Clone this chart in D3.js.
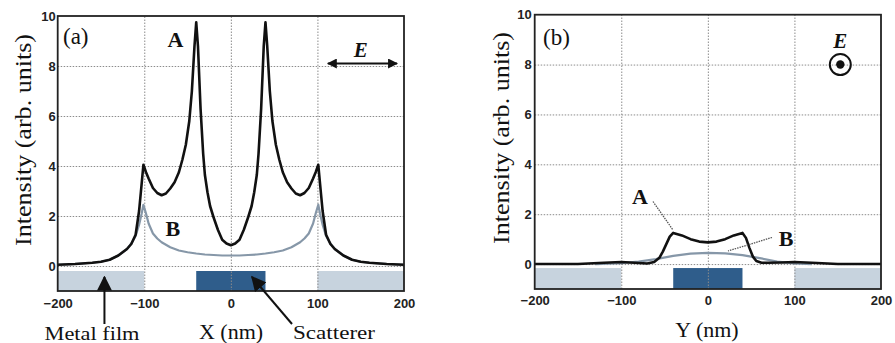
<!DOCTYPE html>
<html>
<head>
<meta charset="utf-8">
<script src="https://cdn.jsdelivr.net/npm/d3@7"></script>
<style>
  html, body { margin: 0; padding: 0; background: #fff; }
  svg { display: block; }
  .tick text { font-family: "Liberation Sans", Arial, sans-serif; font-weight: bold; font-size: 13px; fill: #222; }
  text.serif { font-family: "Liberation Serif", "Times New Roman", Times, serif; fill: #111; }
</style>
</head>
<body>
<svg id="chart" width="895" height="343"></svg>
<script>
// ---- data ----
const xTicks = [-200, -100, 0, 100, 200];
const yTicks = [0, 2, 4, 6, 8, 10];
const gridX = [-100, 0, 100];
const gridY = [0, 2, 4, 6, 8];

// panel (a): X profile
const xA_a = [-200, -180, -160, -150, -140, -130, -120, -115, -110, -106, -103, -101, -98, -95, -90, -85, -80, -75, -70, -65, -60, -56, -52, -48, -45, -42, -40, -38, -35, -32, -30, -27, -24, -20, -15, -10, -5, 0,
  5, 10, 15, 20, 24, 27, 30, 32, 35, 38, 40, 42, 45, 48, 52, 56, 60, 65, 70, 75, 80, 85, 90, 95, 98, 101, 103, 106, 110, 115, 120, 130, 140, 150, 160, 180, 200];
const yA_a = [0.05, 0.08, 0.13, 0.17, 0.25, 0.42, 0.68, 0.88, 1.25, 2.2, 3.3, 4.05, 3.75, 3.5, 3.12, 2.92, 2.83, 2.9, 3.1, 3.35, 3.75, 4.25, 4.85, 5.8, 7.0, 8.8, 9.75, 8.8, 6.3, 4.5, 3.65, 2.95, 2.4, 1.95, 1.45, 1.05, 0.9, 0.83,
  0.9, 1.05, 1.45, 1.95, 2.4, 2.95, 3.65, 4.5, 6.3, 8.8, 9.75, 8.8, 7.0, 5.8, 4.85, 4.25, 3.75, 3.35, 3.1, 2.9, 2.83, 2.92, 3.12, 3.5, 3.75, 4.05, 3.3, 2.2, 1.25, 0.88, 0.68, 0.42, 0.25, 0.17, 0.13, 0.08, 0.05];
const xB_a = [-200, -180, -160, -150, -140, -130, -120, -115, -110, -106, -103, -101, -98, -95, -90, -85, -80, -70, -60, -50, -40, -30, -20, -10, 0,
  10, 20, 30, 40, 50, 60, 70, 80, 85, 90, 95, 98, 101, 103, 106, 110, 115, 120, 130, 140, 150, 160, 180, 200];
const yB_a = [0.05, 0.08, 0.13, 0.17, 0.25, 0.42, 0.68, 0.9, 1.2, 1.65, 2.1, 2.45, 2.1, 1.7, 1.3, 1.1, 0.95, 0.75, 0.62, 0.55, 0.5, 0.46, 0.44, 0.42, 0.42,
  0.42, 0.44, 0.46, 0.5, 0.55, 0.62, 0.75, 0.95, 1.1, 1.3, 1.7, 2.1, 2.45, 2.1, 1.65, 1.2, 0.9, 0.68, 0.42, 0.25, 0.17, 0.13, 0.08, 0.05];

// panel (b): Y profile
const xA_b = [-200, -150, -120, -100, -85, -70, -62, -56, -52, -48, -44, -40, -35, -30, -20, -10, 0, 10, 20, 30, 35, 40, 44, 48, 52, 56, 62, 70, 85, 100, 120, 150, 200];
const yA_b = [0.0, 0.0, 0.05, 0.08, 0.05, 0.02, 0.08, 0.25, 0.5, 0.8, 1.1, 1.25, 1.2, 1.15, 1.0, 0.9, 0.87, 0.9, 1.0, 1.15, 1.2, 1.25, 1.05, 0.65, 0.3, 0.12, 0.05, 0.05, 0.06, 0.08, 0.05, 0.0, 0.0];
const xB_b = [-130, -100, -80, -60, -40, -20, 0, 20, 40, 60, 80, 100, 120];
const yB_b = [0.0, 0.04, 0.1, 0.2, 0.33, 0.42, 0.45, 0.43, 0.36, 0.24, 0.1, 0.03, 0.0];

// substrate blocks
const blockFrom = [-200, -40, 100];
const blockTo = [-100, 40, 200];
const blockKind = ['film', 'scatterer', 'film'];

const SERIF = '"Liberation Serif", "Times New Roman", Times, serif';
const svg = d3.select('#chart');

function zip(xs, ys) { return xs.map((x, i) => ({x, y: ys[i]})); }

function label(g, x, y, size, txt) {
  return g.append('text').attr('class', 'serif')
    .attr('font-family', SERIF).attr('fill', '#111')
    .attr('x', x).attr('y', y).attr('font-size', size).text(txt);
}

function panel(cfg) {
  const x = d3.scaleLinear().domain([-200, 200]).range([cfg.left, cfg.right]);
  const y = d3.scaleLinear().domain([-1, 10]).range([cfg.bottom, cfg.top]);
  const g = svg.append('g');

  // substrate blocks
  g.selectAll('.block')
    .data(blockFrom.map((f, i) => ({f, t: blockTo[i], k: blockKind[i]})))
    .enter().append('rect')
    .attr('x', d => x(d.f))
    .attr('width', d => x(d.t) - x(d.f))
    .attr('y', d => y(cfg.blockTop))
    .attr('height', d => y(-1) - y(cfg.blockTop))
    .attr('fill', d => d.k === 'film' ? '#c7d3de' : '#2f5d8b');

  // grid
  g.append('g')
    .attr('transform', `translate(0,${cfg.bottom})`)
    .call(d3.axisBottom(x).tickValues(gridX).tickSize(-(cfg.bottom - cfg.top)).tickFormat(''))
    .call(a => a.select('.domain').remove())
    .selectAll('line').attr('stroke', '#8c8c8c').attr('stroke-dasharray', '1.5,1.5');
  g.append('g')
    .attr('transform', `translate(${cfg.left},0)`)
    .call(d3.axisLeft(y).tickValues(gridY).tickSize(-(cfg.right - cfg.left)).tickFormat(''))
    .call(a => a.select('.domain').remove())
    .selectAll('line').attr('stroke', '#8c8c8c').attr('stroke-dasharray', '1.5,1.5');

  // tick labels
  g.append('g')
    .attr('transform', `translate(0,${cfg.bottom})`)
    .call(d3.axisBottom(x).tickValues(xTicks).tickSize(0).tickPadding(cfg.xPad))
    .call(a => a.select('.domain').remove());
  g.append('g')
    .attr('transform', `translate(${cfg.left},0)`)
    .call(d3.axisLeft(y).tickValues(yTicks).tickSize(0).tickPadding(cfg.yPad))
    .call(a => a.select('.domain').remove());

  const line = d3.line().x(d => x(d.x)).y(d => y(d.y));
  g.append('path').datum(zip(cfg.xB, cfg.yB))
    .attr('d', line).attr('fill', 'none')
    .attr('stroke', '#8697a8').attr('stroke-width', 2.2).attr('stroke-linejoin', 'round');
  g.append('path').datum(zip(cfg.xA, cfg.yA))
    .attr('d', line).attr('fill', 'none')
    .attr('stroke', '#111').attr('stroke-width', 2.6).attr('stroke-linejoin', 'round');

  // frame
  g.append('rect')
    .attr('x', cfg.left).attr('y', cfg.top)
    .attr('width', cfg.right - cfg.left).attr('height', cfg.bottom - cfg.top)
    .attr('fill', 'none').attr('stroke', '#222').attr('stroke-width', 1.8);

  // axis titles
  label(g, 0, 0, 23, 'Intensity (arb. units)')
    .attr('transform', `translate(${cfg.yTitleX},${cfg.yTitleY}) rotate(-90)`)
    .attr('text-anchor', 'middle')
    .attr('textLength', 212).attr('lengthAdjust', 'spacingAndGlyphs');
  label(g, cfg.xTitleX, cfg.xTitleY, 22, cfg.xTitle).attr('text-anchor', 'middle');
  label(g, cfg.tagX, cfg.tagY, 23, cfg.tag);

  return {x, y, g};
}

const defs = svg.append('defs');
defs.append('marker').attr('id', 'head').attr('viewBox', '0 0 10 10')
  .attr('refX', 9).attr('refY', 5).attr('markerWidth', 10).attr('markerHeight', 10)
  .attr('markerUnits', 'userSpaceOnUse').attr('orient', 'auto-start-reverse')
  .append('path').attr('d', 'M0,0 L10,5 L0,10 Z').attr('fill', '#111');
defs.append('marker').attr('id', 'bighead').attr('viewBox', '0 0 10 10')
  .attr('refX', 9).attr('refY', 5).attr('markerWidth', 15).attr('markerHeight', 15)
  .attr('markerUnits', 'userSpaceOnUse').attr('orient', 'auto')
  .append('path').attr('d', 'M0,0 L10,5 L0,10 Z').attr('fill', '#111');

// ---- panel (a) ----
const pa = panel({
  left: 57.7, right: 404, top: 16, bottom: 291, blockTop: -0.2,
  xPad: 8, yPad: 2,
  xA: xA_a, yA: yA_a, xB: xB_a, yB: yB_a,
  yTitleX: 31, yTitleY: 140, xTitle: 'X (nm)', xTitleX: 231, xTitleY: 339,
  tag: '(a)', tagX: 63, tagY: 44
});
label(pa.g, pa.x(-64), 47, 22, 'A').attr('text-anchor', 'middle').attr('font-weight', 'bold');
label(pa.g, pa.x(-67), 236, 22, 'B').attr('text-anchor', 'middle').attr('font-weight', 'bold');
label(pa.g, pa.x(150), 57, 21, 'E').attr('text-anchor', 'middle')
  .attr('font-style', 'italic').attr('font-weight', 'bold');
pa.g.append('line')
  .attr('x1', pa.x(112)).attr('x2', pa.x(192)).attr('y1', pa.y(8.1)).attr('y2', pa.y(8.1))
  .attr('stroke', '#111').attr('stroke-width', 2.2)
  .attr('marker-start', 'url(#head)').attr('marker-end', 'url(#head)');
// callouts
pa.g.append('line').attr('x1', pa.x(-146)).attr('y1', 324).attr('x2', pa.x(-146)).attr('y2', 277)
  .attr('stroke', '#111').attr('stroke-width', 2).attr('marker-end', 'url(#bighead)');
pa.g.append('line').attr('x1', 292).attr('y1', 324).attr('x2', 252).attr('y2', 277)
  .attr('stroke', '#111').attr('stroke-width', 2).attr('marker-end', 'url(#bighead)');
label(pa.g, 92, 340, 19, 'Metal film').attr('text-anchor', 'middle')
  .attr('textLength', 95).attr('lengthAdjust', 'spacingAndGlyphs');
label(pa.g, 334, 339, 19, 'Scatterer').attr('text-anchor', 'middle')
  .attr('textLength', 82).attr('lengthAdjust', 'spacingAndGlyphs');

// ---- panel (b) ----
const pb = panel({
  left: 534.7, right: 881, top: 14.7, bottom: 289, blockTop: -0.16,
  xPad: 7, yPad: 3,
  xA: xA_b, yA: yA_b, xB: xB_b, yB: yB_b,
  yTitleX: 509, yTitleY: 138, xTitle: 'Y (nm)', xTitleX: 707, xTitleY: 337,
  tag: '(b)', tagX: 543, tagY: 45
});
label(pb.g, 640, 204, 22, 'A').attr('text-anchor', 'middle').attr('font-weight', 'bold');
label(pb.g, 786, 246, 22, 'B').attr('text-anchor', 'middle').attr('font-weight', 'bold');
pb.g.append('line').attr('x1', 653).attr('y1', 201.5).attr('x2', 673).attr('y2', 230)
  .attr('stroke', '#555').attr('stroke-width', 1.3).attr('stroke-dasharray', '1.5,1');
pb.g.append('line').attr('x1', 772).attr('y1', 237.5).attr('x2', 728).attr('y2', 251)
  .attr('stroke', '#555').attr('stroke-width', 1.3).attr('stroke-dasharray', '1.5,1');
label(pb.g, pb.x(153), 48, 21, 'E').attr('text-anchor', 'middle')
  .attr('font-style', 'italic').attr('font-weight', 'bold');
pb.g.append('circle').attr('cx', pb.x(153)).attr('cy', pb.y(8))
  .attr('r', 10.5).attr('fill', 'none').attr('stroke', '#111').attr('stroke-width', 2);
pb.g.append('circle').attr('cx', pb.x(153)).attr('cy', pb.y(8))
  .attr('r', 4.2).attr('fill', '#111');
</script>
</body>
</html>
